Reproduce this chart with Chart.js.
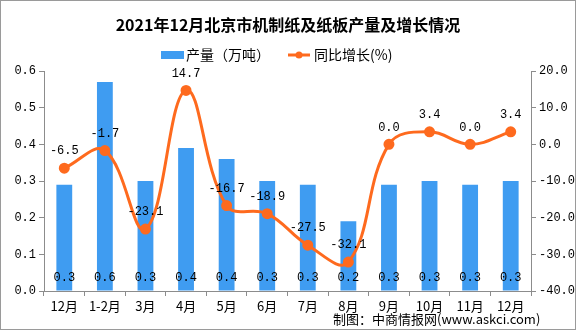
<!DOCTYPE html>
<html>
<head>
<meta charset="utf-8">
<script src="https://cdn.jsdelivr.net/npm/chart.js@4"></script>
<style>
  html, body { margin: 0; padding: 0; background: #fff; }
  #wrap { width: 576px; height: 330px; position: relative; }
</style>
</head>
<body>
<div id="wrap"><canvas id="paperChart" width="576" height="330"></canvas></div>
<script>
const months = ['12月', '1-2月', '3月', '4月', '5月', '6月', '7月', '8月', '9月', '10月', '11月', '12月'];
const output = [0.29, 0.57, 0.30, 0.39, 0.36, 0.30, 0.29, 0.19, 0.29, 0.30, 0.29, 0.30];
const growth = [-6.5, -1.7, -23.1, 14.7, -16.7, -18.9, -27.5, -32.1, 0.0, 3.4, 0.0, 3.4];

const BLUE = '#3f9cf1';
const ORANGE = '#fe6a1e';
const AXIS = '#8c8c8c';
const monoFont = { family: '"Liberation Mono", monospace', size: 12 };
const cjk = '"Noto Sans CJK SC", sans-serif';

// title, legend, value labels and credit line
const extras = {
    id: 'extras',
    afterDatasetsDraw(chart) {
        const c = chart.ctx;
        c.save();
        c.fillStyle = '#000';
        c.textBaseline = 'middle';

        // bar values near the foot of each bar
        c.font = '12px "Liberation Mono", monospace';
        c.textAlign = 'center';
        chart.getDatasetMeta(0).data.forEach((bar, i) => {
            c.fillText(output[i].toFixed(1), bar.x, 278);
        });
        // line values above points
        chart.getDatasetMeta(1).data.forEach((pt, i) => {
            c.fillText(growth[i].toFixed(1), pt.x, pt.y - 17);
        });

        // title
        c.font = 'bold 16px ' + cjk;
        c.fillText('2021年12月北京市机制纸及纸板产量及增长情况', 288, 25);

        // legend
        c.font = '14px ' + cjk;
        c.textAlign = 'left';
        c.fillStyle = BLUE;
        c.fillRect(161, 51, 23, 8);
        c.fillStyle = '#000';
        c.fillText('产量（万吨）', 186, 55);
        c.strokeStyle = ORANGE;
        c.lineWidth = 3;
        c.beginPath();
        c.moveTo(288, 55);
        c.lineTo(310, 55);
        c.stroke();
        c.fillStyle = ORANGE;
        c.beginPath();
        c.arc(299, 55, 3.5, 0, Math.PI * 2);
        c.fill();
        c.fillStyle = '#000';
        c.fillText('同比增长(%)', 314, 55);

        // credit
        c.font = '13px ' + cjk;
        c.fillText('制图：中商情报网(www.askci.com)', 333, 319);

        // outer border
        c.strokeStyle = '#9a9a9a';
        c.lineWidth = 1;
        c.strokeRect(0.5, 0.5, 575, 329);
        c.restore();
    }
};

new Chart(document.getElementById('paperChart').getContext('2d'), {
    data: {
        labels: months,
        datasets: [{
            type: 'bar',
            label: '产量（万吨）',
            data: output,
            backgroundColor: BLUE,
            yAxisID: 'y',
            categoryPercentage: 1,
            barPercentage: 0.39,
            order: 2
        },
        {
            type: 'line',
            label: '同比增长(%)',
            data: growth,
            borderColor: ORANGE,
            backgroundColor: ORANGE,
            borderWidth: 3,
            tension: 0.4,
            pointRadius: 4,
            pointBackgroundColor: ORANGE,
            pointBorderColor: ORANGE,
            yAxisID: 'y1',
            order: 1
        }]
    },
    options: {
        responsive: false,
        animation: false,
        layout: { padding: { top: 71, left: 0, right: 0, bottom: 0 } },
        plugins: {
            legend: { display: false },
            title: { display: false },
            tooltip: { enabled: false }
        },
        scales: {
            x: {
                offset: true,
                grid: { display: true, drawOnChartArea: false, offset: true, tickLength: 5, color: AXIS },
                border: { color: AXIS },
                ticks: { color: '#000', font: { family: cjk, size: 13 }, padding: 2 },
                afterFit(s) { s.height = 39; }
            },
            y: {
                position: 'left',
                min: 0,
                max: 0.6,
                grid: { drawOnChartArea: false, tickLength: 5, color: AXIS },
                border: { color: AXIS },
                ticks: { stepSize: 0.1, color: '#000', font: monoFont, padding: 3,
                    callback: v => v.toFixed(1) },
                afterFit(s) { s.width = 44; }
            },
            y1: {
                position: 'right',
                min: -40,
                max: 20,
                grid: { drawOnChartArea: false, tickLength: 5, color: AXIS },
                border: { color: AXIS },
                ticks: { stepSize: 10, color: '#000', font: monoFont, padding: 3,
                    callback: v => v.toFixed(1) },
                afterFit(s) { s.width = 45; }
            }
        }
    },
    plugins: [extras]
});
</script>
</body>
</html>
